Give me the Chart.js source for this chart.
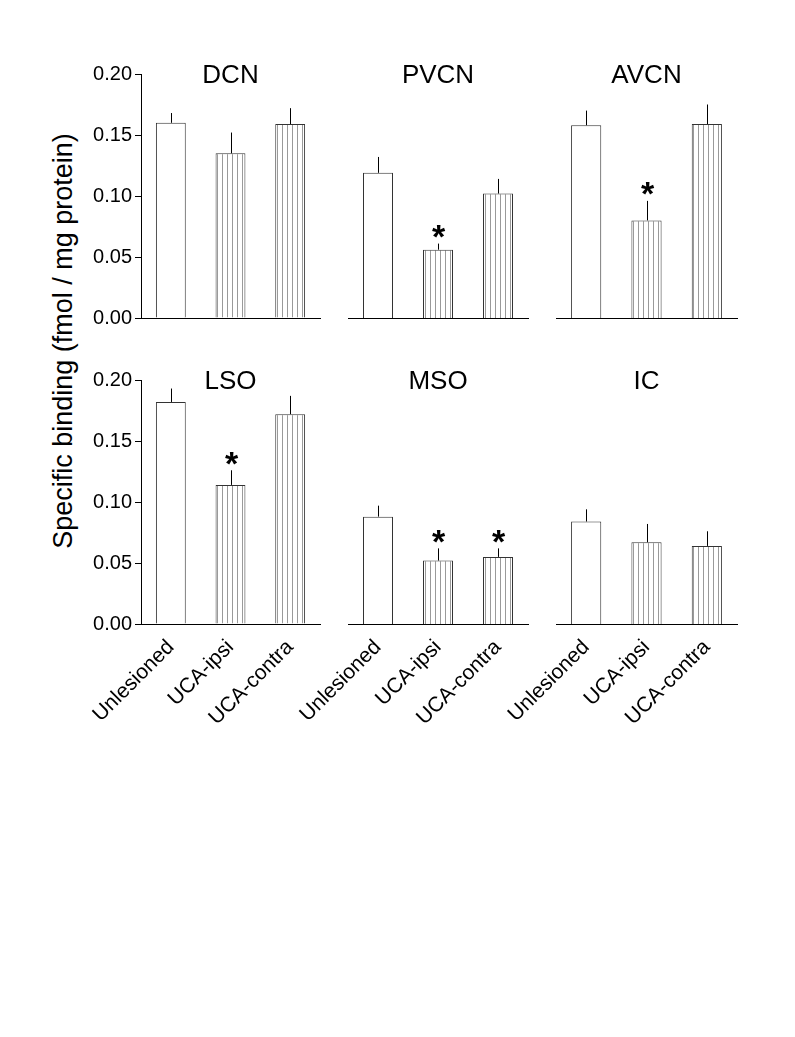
<!DOCTYPE html>
<html>
<head>
<meta charset="utf-8">
<script src="https://cdn.jsdelivr.net/npm/chart.js@4.4.1/dist/chart.umd.min.js"></script>
<style>
  body { margin: 0; background: #fff; }
  #wrap { position: relative; width: 795px; height: 1037px; overflow: hidden; }
  #wrap canvas { position: absolute; }
  #ylab {
    position: absolute; left: -157px; top: 326px; width: 440px; height: 30px;
    line-height: 30px; text-align: center; font: 27px Arial, "Liberation Sans", sans-serif;
    color: #000; transform: rotate(-90deg); white-space: nowrap;
  }
</style>
</head>
<body>
<div id="wrap">
  <div id="ylab">Specific binding (fmol / mg protein)</div>
</div>
<script>
const categories = ['Unlesioned', 'UCA-ipsi', 'UCA-contra'];
const regions = ['DCN', 'PVCN', 'AVCN', 'LSO', 'MSO', 'IC'];

// mean specific binding per region (fmol / mg protein)
const unlesionedMean = [0.160, 0.119, 0.158, 0.182, 0.088, 0.084];
const ipsiMean       = [0.135, 0.056, 0.080, 0.114, 0.052, 0.067];
const contraMean     = [0.159, 0.102, 0.159, 0.172, 0.055, 0.064];

// SEM
const unlesionedSem = [0.008, 0.013, 0.012, 0.011, 0.009, 0.010];
const ipsiSem       = [0.017, 0.005, 0.016, 0.012, 0.010, 0.015];
const contraSem     = [0.013, 0.012, 0.016, 0.015, 0.007, 0.012];

// significant vs unlesioned
const ipsiSig   = [false, true, true, true, true, false];
const contraSig = [false, false, false, false, true, false];

const yTicks = [0, 0.05, 0.10, 0.15, 0.20];

const FONT = 'Arial, "Liberation Sans", sans-serif';
Chart.defaults.font.family = FONT;
Chart.defaults.color = '#000';

function makeHatch() {
  const c = document.createElement('canvas');
  c.width = 5; c.height = 4;
  const g = c.getContext('2d');
  g.fillStyle = '#fff';
  g.fillRect(0, 0, 5, 4);
  g.fillStyle = '#9a9a9a';
  g.fillRect(2, 0, 1, 4);
  return g.createPattern(c, 'repeat');
}
const hatch = makeHatch();

// error bars, asterisks and panel title
function overlay(title, means, sems, sig) {
  return {
    id: 'overlay',
    afterDatasetsDraw(chart) {
      const ctx = chart.ctx;
      const y = chart.scales.y;
      const area = chart.chartArea;
      const bars = chart.getDatasetMeta(0).data;
      ctx.save();
      ctx.strokeStyle = '#000';
      ctx.fillStyle = '#000';
      ctx.lineWidth = 1;
      bars.forEach((bar, i) => {
        const px = Math.round(bar.x) + 0.5;
        const top = y.getPixelForValue(means[i] + sems[i]);
        ctx.beginPath();
        ctx.moveTo(px, y.getPixelForValue(means[i]));
        ctx.lineTo(px, top);
        ctx.stroke();
        if (sig[i]) {
          ctx.font = 'bold 34px ' + FONT;
          ctx.textAlign = 'center';
          ctx.textBaseline = 'alphabetic';
          ctx.fillText('*', px, top - 15 + 0.57 * 34);
        }
      });
      ctx.font = '26px ' + FONT;
      ctx.textAlign = 'center';
      ctx.textBaseline = 'alphabetic';
      ctx.fillText(title, (area.left + area.right) / 2, area.top + 9);
      ctx.restore();
    }
  };
}

const wrap = document.getElementById('wrap');
// plot areas: left edges 141 / 348 / 556, right edges 320 / 528 / 737
const colLeft = [40, 278, 486];
const colWidth = [290, 260, 261];
const yWidth = [101, 70, 70];
const rowTop = [44, 350];

regions.forEach((name, r) => {
  const col = r % 3;
  const row = Math.floor(r / 3);
  const firstCol = col === 0;
  const bottomRow = row === 1;
  const xHeight = bottomRow ? 120 : 20;

  const canvas = document.createElement('canvas');
  canvas.width = colWidth[col];
  canvas.height = 30 + 244 + xHeight;
  canvas.style.left = colLeft[col] + 'px';
  canvas.style.top = rowTop[row] + 'px';
  wrap.appendChild(canvas);

  const means = [unlesionedMean[r], ipsiMean[r], contraMean[r]];
  const sems = [unlesionedSem[r], ipsiSem[r], contraSem[r]];
  const sig = [false, ipsiSig[r], contraSig[r]];

  new Chart(canvas.getContext('2d'), {
    type: 'bar',
    data: {
      labels: categories,
      datasets: [{
        data: means,
        backgroundColor: ['#fff', hatch, hatch],
        borderColor: '#333',
        borderWidth: 1,
        barPercentage: 0.5,
        categoryPercentage: 1
      }]
    },
    options: {
      responsive: false,
      animation: false,
      devicePixelRatio: 1,
      events: [],
      layout: {
        padding: { top: 30, left: 0, right: 10, bottom: 0 }
      },
      plugins: {
        legend: { display: false },
        tooltip: { enabled: false }
      },
      scales: {
        x: {
          grid: { display: false },
          border: { display: true, color: '#000', width: 1 },
          ticks: {
            display: bottomRow,
            color: '#000',
            font: { size: 21 },
            minRotation: 45,
            maxRotation: 45,
            padding: 3
          },
          afterFit: s => { s.height = xHeight; }
        },
        y: {
          display: firstCol,
          min: 0,
          max: 0.2,
          afterBuildTicks: s => { s.ticks = yTicks.map(v => ({ value: v })); },
          ticks: {
            color: '#000',
            font: { size: 20 },
            padding: 3,
            callback: v => v.toFixed(2)
          },
          grid: { drawOnChartArea: false, drawTicks: true, tickLength: 6, color: '#000' },
          border: { display: true, color: '#000', width: 1 },
          afterFit: s => { s.width = yWidth[col]; }
        }
      }
    },
    plugins: [overlay(name, means, sems, sig)]
  });
});
</script>
</body>
</html>
